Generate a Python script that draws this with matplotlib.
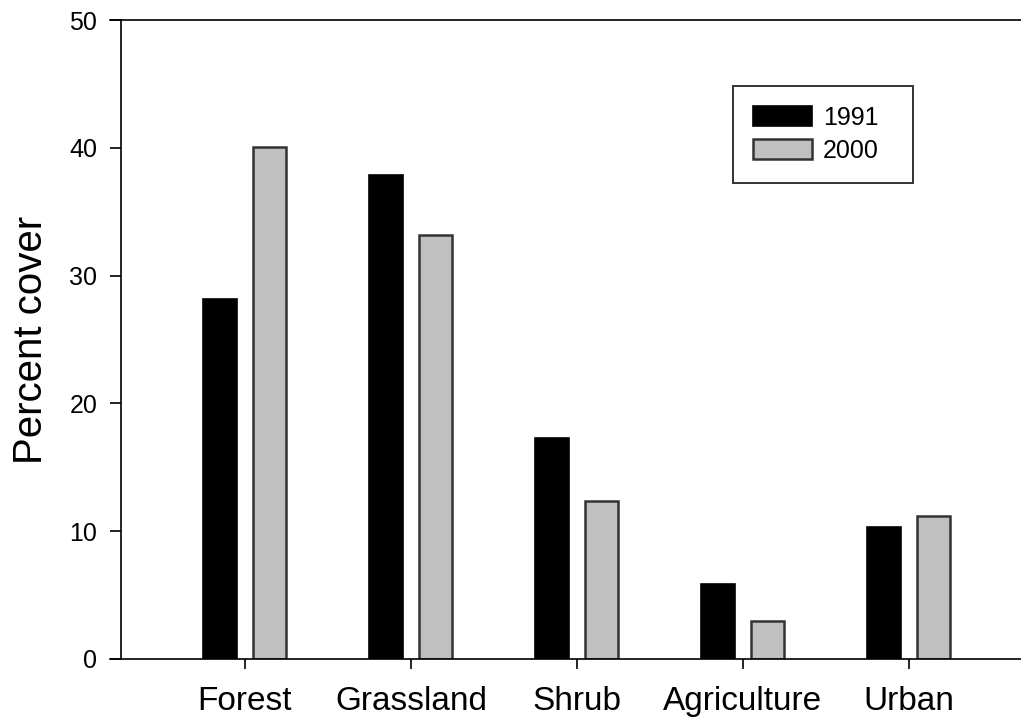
import matplotlib
matplotlib.use('Agg')
import matplotlib.pyplot as plt
import numpy as np

# land cover data
categories = ['Forest', 'Grassland', 'Shrub', 'Agriculture', 'Urban']
cover_1991 = [28.2, 37.9, 17.3, 5.9, 10.3]
cover_2000 = [40.1, 33.2, 12.4, 3.0, 11.2]
years = ['1991', '2000']

plt.rcParams['font.family'] = ['Liberation Sans', 'DejaVu Sans']

fig = plt.figure(figsize=(10.21, 7.23), dpi=100)
ax = fig.add_axes([110 / 1021, 1 - 659 / 723, 1 - 110 / 1021, (659 - 20) / 723])

x = np.arange(len(categories))
w = 0.2
ax.bar(x - 0.15, cover_1991, w, color='black', edgecolor='black', linewidth=1.2, label=years[0])
ax.bar(x + 0.15, cover_2000, w, color='#c0c0c0', edgecolor='#333333', linewidth=1.8, label=years[1])

ax.set_xlim(-0.813, 4.675)
ax.set_ylim(0, 50)
ax.spines['left'].set_position(('data', -0.747))
ax.spines['right'].set_visible(False)
for s in ['left', 'bottom', 'top']:
    ax.spines[s].set_linewidth(1.2)

ax.set_xticks(x)
ax.set_xticklabels(categories, fontsize=24)
ax.set_yticks([0, 10, 20, 30, 40, 50])
ax.tick_params(axis='y', direction='out', length=8, width=1.2, labelsize=18, pad=9)
ax.tick_params(axis='x', direction='out', length=7.5, width=1.2, pad=12)
ax.set_ylabel('Percent cover', fontsize=29, labelpad=14)

leg = ax.legend(loc='upper left', bbox_to_anchor=(733 / 1021, 1 - 182 / 723, 180 / 1021, 96 / 723),
                bbox_transform=fig.transFigure, mode='expand', fontsize=18, frameon=True,
                fancybox=False, borderaxespad=0, handlelength=2.35, handleheight=0.85,
                borderpad=0.8, labelspacing=0.35, handletextpad=0.45)
leg.get_frame().set_edgecolor('black')
leg.get_frame().set_linewidth(1.4)

plt.savefig('out.png', dpi=100)
